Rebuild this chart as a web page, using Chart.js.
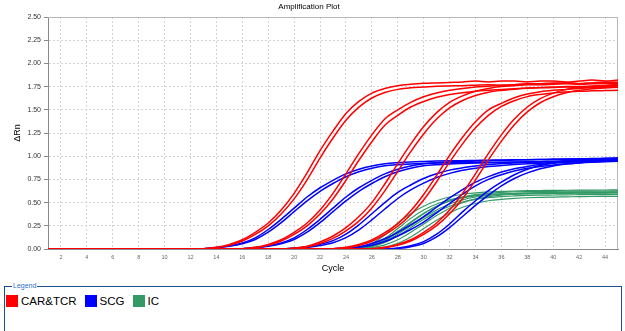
<!DOCTYPE html>
<html>
<head>
<meta charset="utf-8">
<script src="https://cdn.jsdelivr.net/npm/chart.js@4.4.0/dist/chart.umd.min.js"></script>
<style>
  body { margin: 0; width: 625px; height: 331px; background: #fff; position: relative; overflow: hidden; font-family: "Liberation Sans", Arial, sans-serif; }
  #wrap { position: absolute; left: 0; top: 0; width: 625px; height: 280px; }
  #legendBox { position: absolute; left: 4px; top: 286px; width: 618px; height: 60px; border: 1px solid #1b4f8e; box-sizing: border-box; }
  #legendTitle { position: absolute; left: 7px; top: -5px; background: #fff; font-size: 7px; line-height: 8px; color: #2f6fbf; padding: 0 1px; }
  #legendItems { position: absolute; left: 1px; top: 8px; display: flex; align-items: center; }
  .item { display: flex; align-items: center; margin-right: 8px; }
  .swatch { width: 12px; height: 12px; margin-right: 3px; }
  .lbl { font-size: 11.5px; line-height: 12px; color: #000; }
</style>
</head>
<body>
<div id="wrap"><canvas id="chart"></canvas></div>
<div id="legendBox">
  <span id="legendTitle">Legend</span>
  <div id="legendItems"></div>
</div>
<script>
// cycle numbers (x values)
const cycles = [1,2,3,4,5,6,7,8,9,10,11,12,13,14,15,16,17,18,19,20,21,22,23,24,25,26,27,28,29,30,31,32,33,34,35,36,37,38,39,40,41,42,43,44,45];
const xTicks = [2,4,6,8,10,12,14,16,18,20,22,24,26,28,30,32,34,36,38,40,42,44];
const yTicks = [0,0.25,0.5,0.75,1,1.25,1.5,1.75,2,2.25,2.5];

const seriesNames = ['CAR&TCR', 'SCG', 'IC'];
const seriesColors = ['#ff0000', '#0000ff', '#339966'];

// CAR&TCR (red), delta Rn per cycle
const carTcr1a = [0,0,0,0,0, 0,0,0,0,0, 0,0, .004,.018,.05,.10,.18,.28,.42,.60,.82,1.06,1.27,1.46,1.59,1.68,1.73,1.76,1.775,1.785,1.79,1.795,1.80,1.81,1.80,1.81,1.81,1.80,1.81,1.81,1.80,1.81,1.82,1.81,1.82];
const carTcr1b = [0,0,0,0,0, 0,0,0,0,0, 0,0, .002,.014,.04,.086,.157,.25,.377,.54,.745,.98,1.196,1.387,1.529,1.627,1.686,1.72,1.737,1.745,1.754,1.757,1.76,1.765,1.77,1.765,1.77,1.775,1.77,1.775,1.78,1.775,1.78,1.785,1.78];
const carTcr2a = [0,0,0,0,0, 0,0,0,0,0, 0,0,0,0,0, .004,.018,.05,.10,.18,.28,.42,.60,.81,1.03,1.23,1.40,1.50,1.58,1.64,1.68,1.71,1.73,1.745,1.755,1.765,1.77,1.78,1.78,1.79,1.79,1.78,1.79,1.79,1.80];
const carTcr2b = [0,0,0,0,0, 0,0,0,0,0, 0,0,0,0,0, .002,.014,.039,.086,.157,.25,.377,.539,.74,.956,1.156,1.333,1.44,1.53,1.59,1.635,1.665,1.685,1.70,1.71,1.72,1.728,1.735,1.74,1.745,1.75,1.75,1.755,1.76,1.76];
const carTcr3a = [0,0,0,0,0, 0,0,0,0,0, 0,0,0,0,0, 0,0,0,0, .01,.03,.075,.14,.23,.35,.50,.70,.92,1.13,1.32,1.47,1.58,1.65,1.70,1.73,1.75,1.76,1.77,1.775,1.78,1.79,1.78,1.79,1.80,1.79];
const carTcr3b = [0,0,0,0,0, 0,0,0,0,0, 0,0,0,0,0, 0,0,0,0, .007,.022,.059,.114,.196,.30,.443,.627,.837,1.049,1.24,1.40,1.52,1.60,1.654,1.69,1.709,1.722,1.732,1.737,1.74,1.745,1.74,1.75,1.75,1.755];
const carTcr4a = [0,0,0,0,0, 0,0,0,0,0, 0,0,0,0,0, 0,0,0,0,0, 0,0, .004,.018,.049,.098,.176,.274,.412,.588,.794,1.009,1.205,1.372,1.499,1.57,1.63,1.67,1.695,1.71,1.72,1.73,1.737,1.742,1.745];
const carTcr4b = [0,0,0,0,0, 0,0,0,0,0, 0,0,0,0,0, 0,0,0,0,0, 0,0, .002,.013,.038,.084,.154,.245,.37,.528,.725,.936,1.133,1.306,1.44,1.536,1.598,1.642,1.666,1.682,1.692,1.70,1.704,1.707,1.71];
const carTcr5a = [0,0,0,0,0, 0,0,0,0,0, 0,0,0,0,0, 0,0,0,0,0, 0,0,0,0,0, .004,.018,.05,.10,.18,.28,.42,.60,.81,1.03,1.23,1.40,1.53,1.62,1.68,1.72,1.74,1.755,1.765,1.772];
const carTcr5b = [0,0,0,0,0, 0,0,0,0,0, 0,0,0,0,0, 0,0,0,0,0, 0,0,0,0,0, .002,.014,.039,.086,.158,.251,.379,.542,.744,.96,1.162,1.34,1.478,1.576,1.64,1.684,1.709,1.726,1.736,1.743];

// SCG (blue)
const scg1a = [0,0,0,0,0, 0,0,0,0,0, 0,0, .004,.015,.035,.065,.12,.21,.32,.44,.56,.66,.74,.81,.86,.895,.918,.93,.938,.943,.947,.95,.952,.955,.957,.96,.962,.963,.965,.966,.968,.97,.971,.972,.974];
const scg1b = [0,0,0,0,0, 0,0,0,0,0, 0,0, .002,.012,.029,.056,.103,.181,.284,.402,.519,.622,.706,.779,.833,.87,.896,.909,.917,.922,.926,.929,.931,.933,.935,.936,.938,.94,.941,.943,.944,.945,.946,.947,.948];
const scg2a = [0,0,0,0,0, 0,0,0,0,0, 0,0,0,0,0, .004,.015,.035,.065,.12,.21,.32,.44,.56,.66,.74,.81,.86,.895,.918,.93,.938,.943,.947,.951,.955,.958,.961,.964,.967,.97,.972,.975,.977,.98];
const scg2b = [0,0,0,0,0, 0,0,0,0,0, 0,0,0,0,0, .002,.012,.029,.056,.103,.181,.284,.402,.519,.622,.706,.779,.833,.87,.896,.909,.917,.922,.926,.929,.932,.934,.936,.938,.94,.942,.944,.946,.948,.95];
const scg3a = [0,0,0,0,0, 0,0,0,0,0, 0,0,0,0,0, 0,0,0,0, .01,.025,.05,.09,.16,.26,.38,.50,.61,.69,.76,.81,.85,.875,.895,.91,.92,.928,.935,.94,.945,.95,.955,.96,.963,.966];
const scg3b = [0,0,0,0,0, 0,0,0,0,0, 0,0,0,0,0, 0,0,0,0, .006,.017,.037,.068,.122,.206,.314,.431,.544,.637,.71,.77,.815,.848,.87,.888,.9,.91,.918,.925,.93,.935,.94,.944,.948,.952];
const scg4a = [0,0,0,0,0, 0,0,0,0,0, 0,0,0,0,0, 0,0,0,0,0, 0,0, .004,.012,.025,.06,.11,.18,.26,.35,.45,.55,.64,.72,.78,.83,.865,.89,.91,.925,.935,.945,.952,.958,.962];
const scg4b = [0,0,0,0,0, 0,0,0,0,0, 0,0,0,0,0, 0,0,0,0,0, 0,0, .002,.008,.018,.04,.08,.14,.21,.29,.39,.49,.59,.68,.75,.80,.84,.87,.89,.905,.918,.928,.935,.94,.945];
const scg5a = [0,0,0,0,0, 0,0,0,0,0, 0,0,0,0,0, 0,0,0,0,0, 0,0,0,0,0, 0,0, .01,.035,.08,.16,.27,.40,.52,.63,.72,.80,.86,.90,.93,.95,.962,.97,.975,.98];
const scg5b = [0,0,0,0,0, 0,0,0,0,0, 0,0,0,0,0, 0,0,0,0,0, 0,0,0,0,0, 0,0, .006,.025,.06,.13,.23,.35,.47,.58,.68,.76,.82,.865,.895,.915,.93,.94,.947,.952];

// IC (green)
const ic1 = [0,0,0,0,0, 0,0,0,0,0, 0,0,0,0,0, 0,0,0,0,0, 0,0,0, .005,.02,.06,.15,.28,.38,.46,.52,.56,.59,.605,.615,.62,.625,.628,.63,.632,.633,.634,.635,.636,.637];
const ic2 = [0,0,0,0,0, 0,0,0,0,0, 0,0,0,0,0, 0,0,0,0,0, 0,0,0, .003,.015,.045,.115,.22,.33,.42,.485,.53,.56,.577,.587,.593,.597,.60,.602,.603,.604,.605,.605,.606,.606];
const ic3 = [0,0,0,0,0, 0,0,0,0,0, 0,0,0,0,0, 0,0,0,0,0, 0,0,0,0, .01,.035,.09,.18,.28,.38,.46,.52,.56,.585,.60,.61,.615,.618,.62,.622,.623,.624,.625,.625,.626];
const ic4 = [0,0,0,0,0, 0,0,0,0,0, 0,0,0,0,0, 0,0,0,0,0, 0,0,0,0, .006,.025,.07,.14,.23,.32,.40,.46,.505,.535,.553,.565,.572,.577,.58,.582,.584,.585,.586,.587,.588];
const ic5 = [0,0,0,0,0, 0,0,0,0,0, 0,0,0,0,0, 0,0,0,0,0, 0,0,0,0, .003,.015,.045,.10,.18,.27,.36,.44,.50,.54,.565,.58,.588,.593,.596,.598,.60,.601,.602,.603,.604];
const ic6 = [0,0,0,0,0, 0,0,0,0,0, 0,0,0,0,0, 0,0,0,0,0, 0,0,0,0,0, .005,.02,.06,.13,.22,.31,.39,.45,.49,.52,.535,.545,.552,.557,.56,.562,.564,.566,.567,.568];
const ic7 = [0,0,0,0,0, 0,0,0,0,0, 0,0,0,0,0, 0,0,0,0,0, 0,0,0, .002,.012,.04,.10,.19,.29,.385,.46,.515,.55,.572,.585,.592,.597,.60,.602,.604,.605,.606,.607,.608,.61];
const ic8 = [0,0,0,0,0, 0,0,0,0,0, 0,0,0,0,0, 0,0,0,0,0, 0,0,0,0, .008,.03,.08,.16,.25,.34,.42,.485,.53,.56,.578,.59,.598,.603,.607,.61,.612,.614,.615,.616,.617];

const carTcrCurves = [carTcr1a, carTcr1b, carTcr2a, carTcr2b, carTcr3a, carTcr3b, carTcr4a, carTcr4b, carTcr5a, carTcr5b];
const scgCurves = [scg1a, scg1b, scg2a, scg2b, scg3a, scg3b, scg4a, scg4b, scg5a, scg5b];
const icCurves = [ic1, ic2, ic3, ic4, ic5, ic6, ic7, ic8];

const groups = [
  { name: seriesNames[0], color: seriesColors[0], curves: carTcrCurves, width: 1.5 },
  { name: seriesNames[1], color: seriesColors[1], curves: scgCurves, width: 1.5 },
  { name: seriesNames[2], color: seriesColors[2], curves: icCurves, width: 1.2 }
];

// first dataset is drawn on top, so red ends up above blue and green
const datasets = [];
groups.forEach(g => {
  g.curves.forEach(vals => {
    datasets.push({
      label: g.name,
      data: vals.map((v, i) => ({ x: cycles[i], y: v })),
      borderColor: g.color,
      borderWidth: g.width,
      pointRadius: 0,
      fill: false,
      cubicInterpolationMode: 'monotone'
    });
  });
});

// light grey box on top and right of the plot
const framePlugin = {
  id: 'frame',
  beforeDatasetsDraw(chart) {
    const { ctx, chartArea: a } = chart;
    ctx.save();
    ctx.strokeStyle = '#b8b8b8';
    ctx.lineWidth = 1;
    ctx.beginPath();
    ctx.moveTo(a.left, a.top + 0.5);
    ctx.lineTo(a.right - 0.5, a.top + 0.5);
    ctx.lineTo(a.right - 0.5, a.bottom);
    ctx.stroke();
    ctx.restore();
  }
};

const font = 'Liberation Sans';

new Chart(document.getElementById('chart'), {
  type: 'line',
  data: { datasets: datasets },
  options: {
    responsive: true,
    maintainAspectRatio: false,
    animation: false,
    devicePixelRatio: 1,
    layout: { padding: { left: 0, right: 7, top: 0, bottom: 5 } },
    plugins: {
      legend: { display: false },
      tooltip: { enabled: false },
      title: {
        display: true,
        text: 'Amplification Plot',
        color: '#000',
        font: { family: font, size: 8, weight: 'normal' },
        padding: { top: 2, bottom: 5.4 }
      }
    },
    scales: {
      x: {
        type: 'linear',
        min: 1,
        max: 45,
        afterBuildTicks: s => { s.ticks = xTicks.map(v => ({ value: v })); },
        afterFit: s => { s.height = 26; },
        ticks: { font: { family: font, size: 5.5 }, color: '#666', padding: 5, maxRotation: 0, autoSkip: false },
        grid: { color: '#d4d4d4', drawTicks: false },
        border: { display: true, color: '#8a8a8a', width: 1, dash: [2, 2] },
        title: { display: true, text: 'Cycle', color: '#000', font: { family: font, size: 9 }, padding: { top: 0, bottom: 1 } }
      },
      y: {
        min: 0,
        max: 2.5,
        afterBuildTicks: s => { s.ticks = yTicks.map(v => ({ value: v })); },
        afterFit: s => { s.width = 48; },
        ticks: { font: { family: font, size: 7 }, color: '#333', padding: 3, callback: v => v.toFixed(2) },
        grid: { color: '#d4d4d4', drawTicks: true, tickLength: 4, tickColor: '#8a8a8a' },
        border: { display: true, color: '#8a8a8a', width: 1, dash: [2, 2] },
        title: { display: true, text: 'ΔRn', color: '#000', font: { family: font, size: 9 }, padding: { top: 12.6, bottom: 0 } }
      }
    }
  },
  plugins: [framePlugin]
});

// legend built from the series names and colours
const items = document.getElementById('legendItems');
seriesNames.forEach((name, i) => {
  const it = document.createElement('div');
  it.className = 'item';
  const sw = document.createElement('div');
  sw.className = 'swatch';
  sw.style.background = seriesColors[i];
  const lb = document.createElement('span');
  lb.className = 'lbl';
  lb.textContent = name;
  it.appendChild(sw);
  it.appendChild(lb);
  items.appendChild(it);
});
</script>
</body>
</html>
